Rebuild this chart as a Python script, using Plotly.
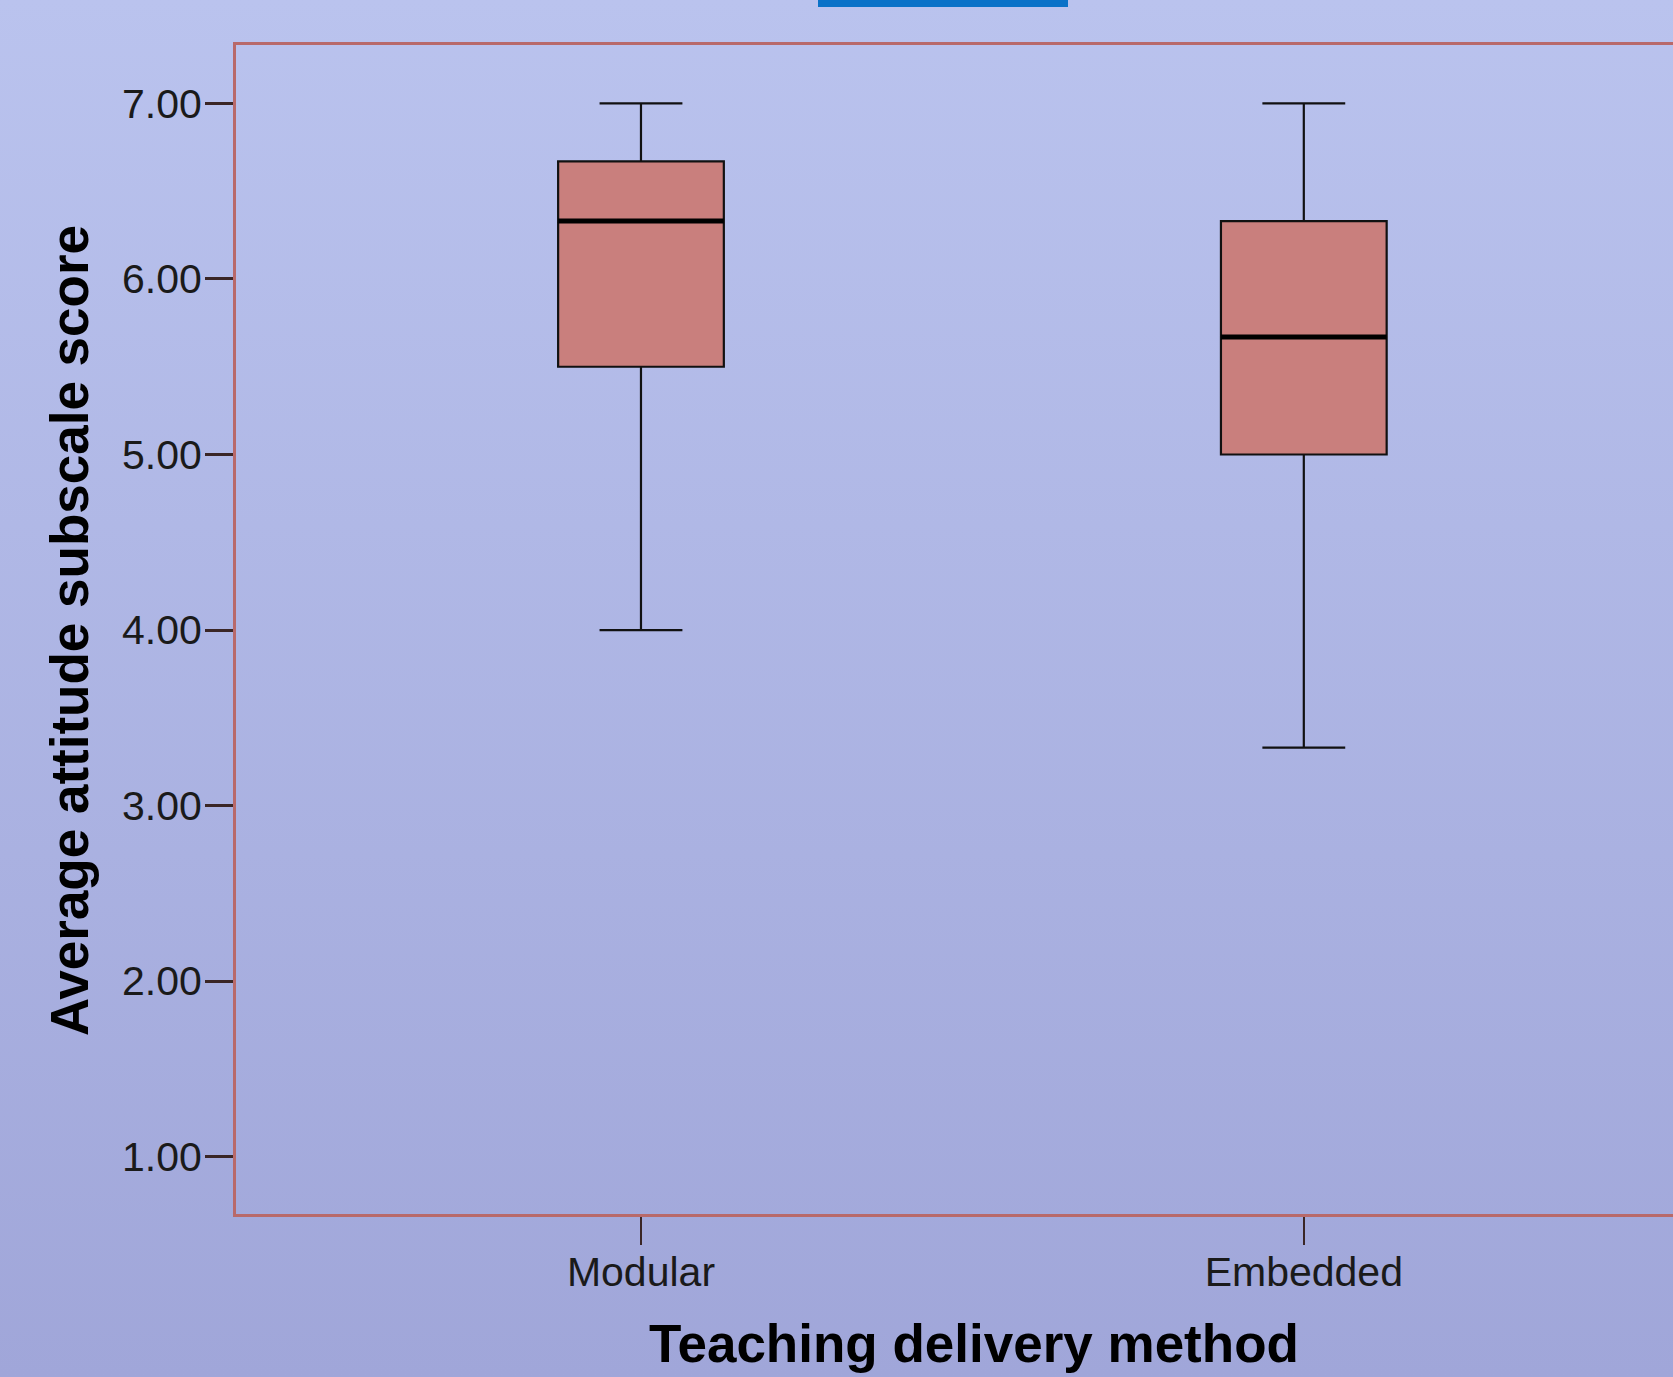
import plotly.graph_objects as go
import base64

# ---- data ----
categories = ["Modular", "Embedded"]
lower_whisker = [4.00, 3.33]
q1_values = [5.50, 5.00]
median_values = [6.33, 5.67]
q3_values = [6.67, 6.33]
upper_whisker = [7.00, 7.00]
y_ticks = [1, 2, 3, 4, 5, 6, 7]

W, H = 1673, 1377
L, R, T, B = 236, 0, 45, 163
pw, ph = W - L - R, H - T - B

box_fill = "#C97F7D"
axis_red = "#B8696A"

fig = go.Figure()
xs = list(range(len(categories)))
box_w = 0.25
for i, c in enumerate(categories):
    fig.add_trace(go.Box(
        x=[xs[i]], q1=[q1_values[i]], median=[median_values[i]], q3=[q3_values[i]],
        lowerfence=[lower_whisker[i]], upperfence=[upper_whisker[i]],
        width=box_w, whiskerwidth=0.5, fillcolor=box_fill,
        line=dict(color="#111111", width=2.2), boxpoints=False,
        showlegend=False, hoverinfo="skip", name=c,
    ))
    fig.add_trace(go.Scatter(
        x=[xs[i] - box_w / 2, xs[i] + box_w / 2], y=[median_values[i]] * 2,
        mode="lines", line=dict(color="#000000", width=5),
        showlegend=False, hoverinfo="skip",
    ))

svg = (f'<svg xmlns="http://www.w3.org/2000/svg" width="{W}" height="{H}">'
       '<defs><linearGradient id="g" x1="0" y1="0" x2="0" y2="1">'
       '<stop offset="0" stop-color="#BAC3EE"/><stop offset="1" stop-color="#A0A6D9"/>'
       '</linearGradient></defs>'
       f'<rect width="{W}" height="{H}" fill="url(#g)"/></svg>')
src = "data:image/svg+xml;base64," + base64.b64encode(svg.encode()).decode()

fig.update_layout(
    width=W, height=H,
    margin=dict(l=L, r=R, t=T, b=B, pad=0),
    paper_bgcolor="#ADB4E3", plot_bgcolor="rgba(0,0,0,0)",
    images=[dict(source=src, xref="paper", yref="paper",
                 x=-L / pw, y=1 + T / ph, sizex=W / pw, sizey=H / ph,
                 sizing="stretch", layer="below", xanchor="left", yanchor="top")],
    font=dict(family="Liberation Sans, Arial, sans-serif", color="#1a1a1a"),
    showlegend=False,
    xaxis=dict(
        range=[-0.611, 1.557], tickmode="array", tickvals=xs, ticktext=categories,
        showgrid=False, zeroline=False, showline=True, linecolor=axis_red, linewidth=3,
        mirror=True, ticks="outside", ticklen=28, tickwidth=2, tickcolor="#3a2626",
        tickfont=dict(size=41, color="#1a1a1a"), ticklabelstandoff=-8,
    ),
    yaxis=dict(
        range=[0.673, 7.333], tickmode="array", tickvals=y_ticks,
        ticktext=[f"{v:.2f}" for v in y_ticks],
        showgrid=False, zeroline=False, showline=True, linecolor=axis_red, linewidth=3,
        mirror=False, ticks="outside", ticklen=28, tickwidth=3, tickcolor="#3a2626",
        tickfont=dict(size=41, color="#1a1a1a"), ticklabelstandoff=-5,
    ),
    annotations=[
        dict(text="<b>Teaching delivery method</b>", xref="paper", yref="paper",
             x=(974 - L) / pw, y=1 - (1343 - T) / ph, xanchor="center", yanchor="middle",
             showarrow=False, font=dict(size=53, color="#000000")),
        dict(text="<b>Average attitude subscale score</b>", xref="paper", yref="paper",
             x=(69 - L) / pw, y=1 - (631 - T) / ph, xanchor="center", yanchor="middle",
             textangle=-90, showarrow=False, font=dict(size=53, color="#000000")),
    ],
    shapes=[
        dict(type="rect", xref="paper", yref="paper",
             x0=(818 - L) / pw, x1=(1068 - L) / pw,
             y0=1 + (T - 7) / ph, y1=1 + T / ph,
             fillcolor="#0A72C8", line=dict(width=0), layer="above"),
    ],
)

fig.write_html("out.html", config={"displayModeBar": False},
               post_script="document.body.style.margin='0';document.body.style.padding='0';document.body.style.overflow='hidden';")
